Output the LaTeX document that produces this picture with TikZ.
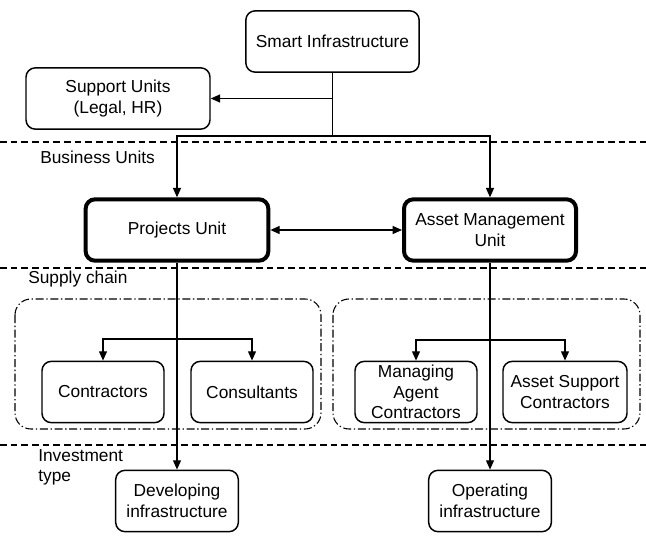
\documentclass[tikz,border=0pt]{standalone}
\usepackage{fontspec}
\setmainfont{Liberation Sans}
\usetikzlibrary{arrows.meta}

\tikzset{
  unitbox/.style={draw, line width=1.1pt, rounded corners=7pt, align=center, inner sep=0pt,
    minimum width=#1, minimum height=46pt, font=\fontsize{13}{15.5}\selectfont},
  unitbox/.default=92pt,
  mainbox/.style={unitbox=#1, line width=3pt},
  arr/.style={line width=0.9pt, -{Triangle[length=7pt,width=6pt]}},
  biarr/.style={line width=0.9pt, {Triangle[length=7pt,width=6pt]}-{Triangle[length=7pt,width=6pt]}},
  layerline/.style={line width=0.8pt, dash pattern=on 5pt off 3pt},
  groupbox/.style={line width=0.8pt, rounded corners=12pt, dash pattern=on 6pt off 2pt on 1pt off 2pt},
  layerlabel/.style={anchor=west, align=left, inner sep=0pt, font=\fontsize{13}{15.5}\selectfont}
}

\begin{document}
\begin{tikzpicture}[x=0.75pt,y=0.75pt,yscale=-1,xscale=1]
\useasboundingbox (0,0) rectangle (646,538);

%Straight Lines: layer borders
\draw [layerline] (0,142) -- (646,142) ;
\draw [layerline] (0,268) -- (646,268) ;
\draw [layerline] (0,445) -- (646,445) ;

%Layer labels
\node [layerlabel] (lbu) at (40,157) {Business Units};
\node [layerlabel] (lsc) at (28,279) {Supply chain};
\node [layerlabel] (lit) at (38,467.5) {Investment\\type};

%Group boxes: supply chain
\draw [groupbox] (15,299) rectangle (321,429) ;
\draw [groupbox] (333,299) rectangle (640,429) ;

%Rounded Rect: top
\node [unitbox=130pt] (smart) at (332.5,41.5) {Smart Infrastructure};
\node [unitbox=138pt] (support) at (118,98.5) {Support Units\\(Legal, HR)};

%Rounded Rect: business units
\node [mainbox=137pt] (proj) at (177,230) {Projects Unit};
\node [mainbox=129pt] (asset) at (490,230) {Asset Management\\Unit};

%Rounded Rect: supply chain
\node [unitbox=91.5pt] (contr) at (103,392) {Contractors};
\node [unitbox=91.5pt] (consult) at (252,392) {Consultants};
\node [unitbox=91.5pt] (agent) at (416,392) {Managing\\Agent\\Contractors};
\node [unitbox=93pt] (assetsup) at (565,392) {Asset Support\\Contractors};

%Rounded Rect: investment type
\node [unitbox=92pt] (dev) at (177,501) {Developing\\infrastructure};
\node [unitbox=92pt] (oper) at (490,501) {Operating\\infrastructure};

%Connectors
\coordinate (split) at (332.5,136) ;
\coordinate (pbranch) at (177,339) ;
\coordinate (abranch) at (490,340) ;

\draw [line width=0.9pt] (smart.south) -- (split) ;
\draw [arr] (smart.south |- support.east) -- (support.east) ;
\draw [arr] (split) -| (proj.north) ;
\draw [arr] (split) -| (asset.north) ;
\draw [biarr] (proj) -- (asset) ;

\draw [arr] (proj.south) -- (dev.north) ;
\draw [arr] (asset.south) -- (oper.north) ;

\draw [arr] (pbranch) -| (contr.north) ;
\draw [arr] (pbranch) -| (consult.north) ;
\draw [arr] (abranch) -| (agent.north) ;
\draw [arr] (abranch) -| (assetsup.north) ;

\end{tikzpicture}
\end{document}
